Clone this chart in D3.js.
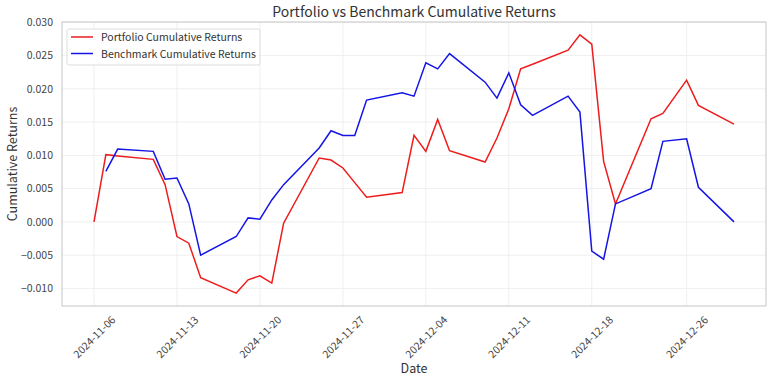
<!DOCTYPE html>
<html><head><meta charset="utf-8">
<script src="https://cdn.jsdelivr.net/npm/d3@7"></script>
<style>body{margin:0;background:#fff}svg{display:block}text{font-family:"Noto Sans CJK KR","Noto Sans",sans-serif}</style>
</head><body><svg id="c" width="773" height="379"></svg>
<script>
const portfolioDates = ["2024-11-06","2024-11-07","2024-11-08","2024-11-11","2024-11-12","2024-11-13","2024-11-14","2024-11-15","2024-11-18","2024-11-19","2024-11-20","2024-11-21","2024-11-22","2024-11-25","2024-11-26","2024-11-27","2024-11-28","2024-11-29","2024-12-02","2024-12-03","2024-12-04","2024-12-05","2024-12-06","2024-12-09","2024-12-10","2024-12-11","2024-12-12","2024-12-13","2024-12-16","2024-12-17","2024-12-18","2024-12-19","2024-12-20","2024-12-23","2024-12-24","2024-12-26","2024-12-27","2024-12-30"];
const portfolioValues = [0.0000,0.0101,0.0099,0.0094,0.0056,-0.0022,-0.0032,-0.0084,-0.0107,-0.0087,-0.0081,-0.0092,-0.0002,0.0096,0.0093,0.0081,0.0059,0.0037,0.0044,0.0130,0.0106,0.0154,0.0107,0.0090,0.0126,0.0170,0.0230,0.0237,0.0258,0.0281,0.0267,0.0091,0.0027,0.0155,0.0163,0.0213,0.0175,0.0147];
const benchmarkDates = ["2024-11-07","2024-11-08","2024-11-11","2024-11-12","2024-11-13","2024-11-14","2024-11-15","2024-11-18","2024-11-19","2024-11-20","2024-11-21","2024-11-22","2024-11-25","2024-11-26","2024-11-27","2024-11-28","2024-11-29","2024-12-02","2024-12-03","2024-12-04","2024-12-05","2024-12-06","2024-12-09","2024-12-10","2024-12-11","2024-12-12","2024-12-13","2024-12-16","2024-12-17","2024-12-18","2024-12-19","2024-12-20","2024-12-23","2024-12-24","2024-12-26","2024-12-27","2024-12-30"];
const benchmarkValues = [0.0076,0.01095,0.0106,0.0064,0.0066,0.0027,-0.0050,-0.0022,0.0006,0.0004,0.0033,0.0056,0.0111,0.0137,0.0130,0.0130,0.0183,0.0194,0.0189,0.0239,0.0230,0.0253,0.0210,0.0186,0.0224,0.0176,0.0160,0.0189,0.0165,-0.0044,-0.0056,0.0027,0.0050,0.0121,0.0125,0.0052,0.0000];
const xTickLabels = ["2024-11-06","2024-11-13","2024-11-20","2024-11-27","2024-12-04","2024-12-11","2024-12-18","2024-12-26"];
const yTickValues = [-0.010,-0.005,0.000,0.005,0.010,0.015,0.020,0.025,0.030];
const seriesNames = ["Portfolio Cumulative Returns","Benchmark Cumulative Returns"];
const seriesColors = ["#ee1c1c","#1414e6"];

const parse = d3.utcParse("%Y-%m-%d");
const svg = d3.select("#c");
const m = {l:62, r:766, t:22, b:306};
const x0 = parse("2024-11-06"), x1 = parse("2024-12-30");
const span = x1 - x0;
const x = d3.scaleUtc().domain([new Date(+x0 - span*0.05), new Date(+x1 + span*0.05)]).range([m.l, m.r]);
const allV = portfolioValues.concat(benchmarkValues);
const vmin = d3.min(allV), vmax = d3.max(allV), vs = vmax - vmin;
const y = d3.scaleLinear().domain([vmin - vs*0.05, vmax + vs*0.05]).range([m.b, m.t]);

// grid
const g = svg.append("g");
g.selectAll(".gx").data(xTickLabels).join("line")
  .attr("x1", d=>x(parse(d))).attr("x2", d=>x(parse(d))).attr("y1", m.t).attr("y2", m.b)
  .attr("stroke","#ebebeb").attr("stroke-width",0.8);
g.selectAll(".gy").data(yTickValues).join("line")
  .attr("x1", m.l).attr("x2", m.r).attr("y1", d=>y(d)).attr("y2", d=>y(d))
  .attr("stroke","#ebebeb").attr("stroke-width",0.8);

// axes
const fmt = v => (v < 0 ? "\u2212" : "") + Math.abs(v).toFixed(3);
const ya = svg.append("g").attr("transform",`translate(${m.l},0)`)
  .call(d3.axisLeft(y).tickValues(yTickValues).tickFormat(fmt).tickSize(0).tickPadding(9));
ya.select(".domain").remove();
ya.selectAll("text").attr("font-size",10.5).attr("fill","#444");
const xa = svg.append("g").attr("transform",`translate(0,${m.b})`)
  .call(d3.axisBottom(x).tickValues(xTickLabels.map(parse)).tickFormat(d3.utcFormat("%Y-%m-%d")).tickSize(0).tickPadding(0));
xa.select(".domain").remove();
xa.selectAll("text").attr("font-size",10.5).attr("fill","#444")
  .attr("text-anchor","middle").attr("y",0).attr("dy","0.35em")
  .attr("transform","translate(0,31) rotate(-45)");

// frame
svg.append("rect").attr("x",m.l).attr("y",m.t).attr("width",m.r-m.l).attr("height",m.b-m.t)
  .attr("fill","none").attr("stroke","#cfcfcf").attr("stroke-width",1.2);

// lines
const line = d3.line().x(d=>x(d[0])).y(d=>y(d[1]));
const pData = portfolioDates.map((d,i)=>[parse(d), portfolioValues[i]]);
const bData = benchmarkDates.map((d,i)=>[parse(d), benchmarkValues[i]]);
svg.append("path").datum(pData).attr("d",line).attr("fill","none").attr("stroke",seriesColors[0]).attr("stroke-width",1.5);
svg.append("path").datum(bData).attr("d",line).attr("fill","none").attr("stroke",seriesColors[1]).attr("stroke-width",1.5);

// title and labels
svg.append("text").attr("x",(m.l+m.r)/2).attr("y",17).attr("text-anchor","middle").attr("font-size",14).attr("fill","#333").text("Portfolio vs Benchmark Cumulative Returns");
svg.append("text").attr("x",414).attr("y",373).attr("text-anchor","middle").attr("font-size",12.5).attr("fill","#333").text("Date");
svg.append("text").attr("transform","translate(17,164) rotate(-90)").attr("text-anchor","middle").attr("font-size",12.5).attr("fill","#333").text("Cumulative Returns");

// legend
const lg = svg.append("g");
lg.append("rect").attr("x",67).attr("y",29).attr("width",193).attr("height",36).attr("rx",2)
  .attr("fill","#fff").attr("fill-opacity",0.8).attr("stroke","#ddd");
seriesNames.forEach((n,i)=>{
  const yy = 37 + i*16.5;
  lg.append("line").attr("x1",71).attr("x2",93).attr("y1",yy).attr("y2",yy).attr("stroke",seriesColors[i]).attr("stroke-width",1.5);
  lg.append("text").attr("x",101).attr("y",yy+4).attr("font-size",10.5).attr("fill","#333").text(n);
});
</script></body></html>
